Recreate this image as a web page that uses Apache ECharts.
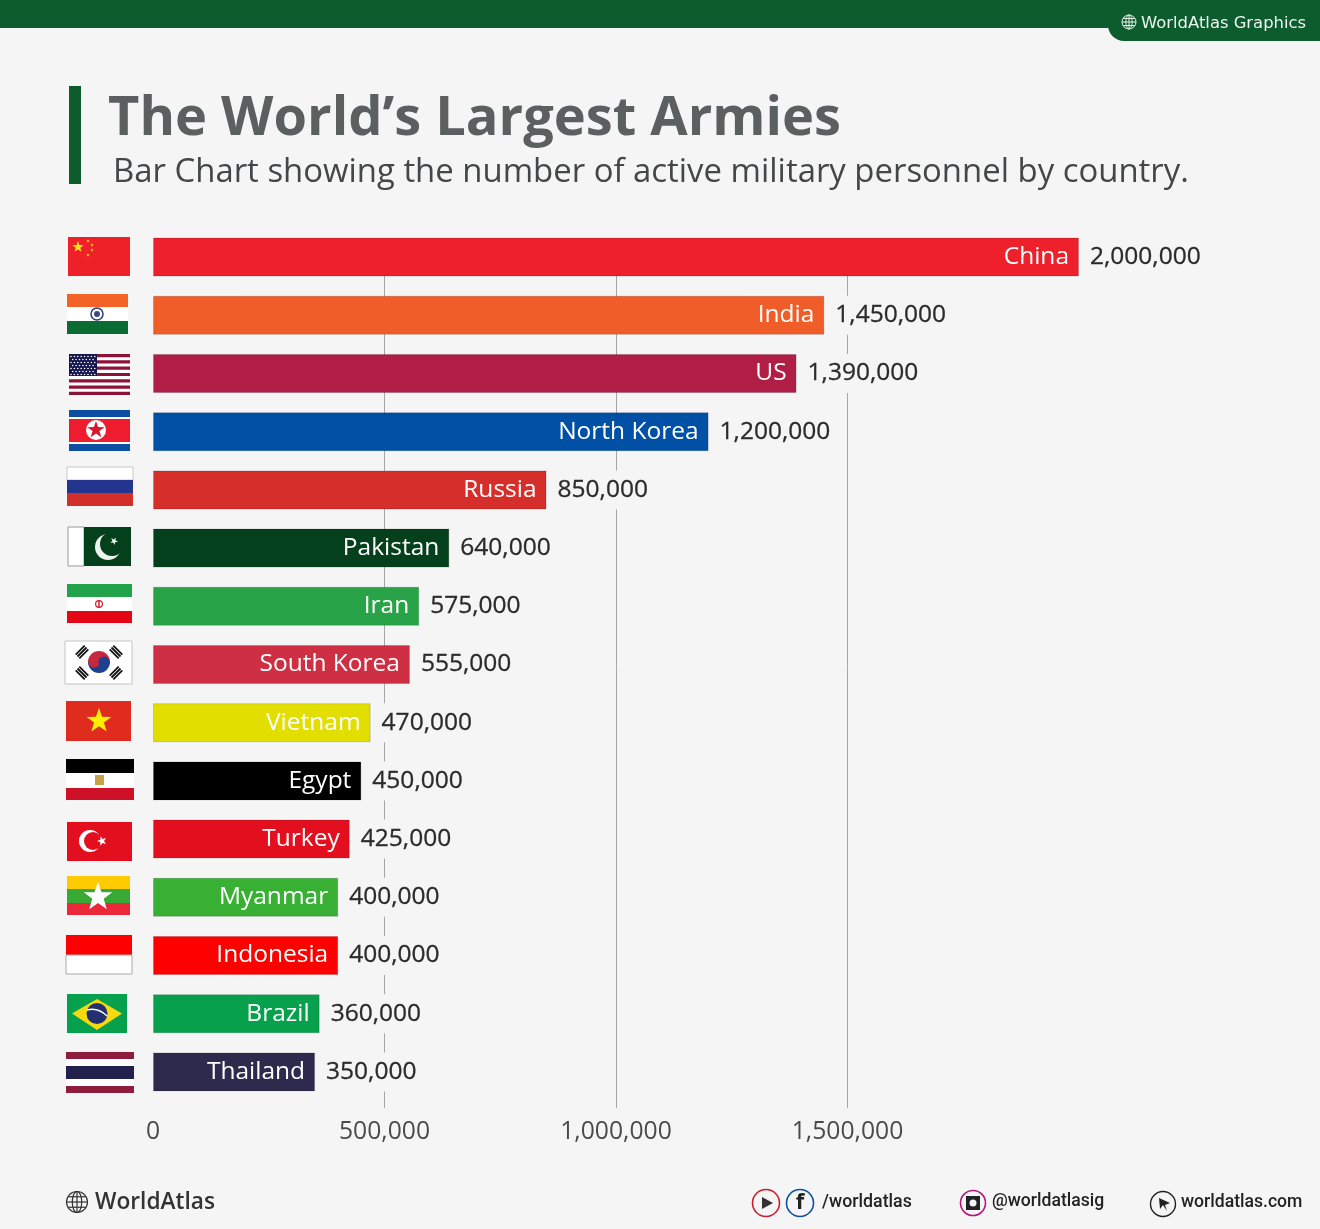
<!DOCTYPE html>
<html>
<head>
<meta charset="utf-8">
<style>html,body{margin:0;padding:0;background:#f5f5f5}#main{width:1320px;height:1229px}</style>
<script src="https://cdn.jsdelivr.net/npm/echarts@6/dist/echarts.min.js"></script>
</head>
<body>
<div id="main"></div>
<script>
var countries = ['China', 'India', 'US', 'North Korea', 'Russia', 'Pakistan', 'Iran', 'South Korea', 'Vietnam', 'Egypt', 'Turkey', 'Myanmar', 'Indonesia', 'Brazil', 'Thailand'];
var personnel = [2000000, 1450000, 1390000, 1200000, 850000, 640000, 575000, 555000, 470000, 450000, 425000, 400000, 400000, 360000, 350000];
var barColors = ['#ee202b', '#f15d29', '#b01e46', '#0051a5', '#d62e2a', '#05401c', '#28a347', '#cf2f42', '#e2de00', '#000000', '#e30f1f', '#38b034', '#fe0000', '#07a04d', '#2e2a4e'];
var tickValues = [500000, 1000000, 1500000];
var tickLabels = [0, 500000, 1000000, 1500000];

var bg = '#f5f5f5';
var green = '#0c5c2e';
var font = '"Open Sans", sans-serif';
var myChart = echarts.init(document.getElementById('main'));

function fmt(v) {
    return String(v).replace(/\B(?=(\d{3})+$)/g, ',');
}

// drawing helpers for the flags and footer icons
function rect(x, y, w, h, fill, stroke) {
    return {type: 'rect', silent: true, shape: {x: x, y: y, width: w, height: h}, style: {fill: fill, stroke: stroke || null, lineWidth: stroke ? 1 : 0}};
}
function circ(cx, cy, r, fill, stroke, lw) {
    return {type: 'circle', silent: true, shape: {cx: cx, cy: cy, r: r}, style: {fill: fill, stroke: stroke || null, lineWidth: lw || 0}};
}
function star(cx, cy, r, fill, rot) {
    var pts = [];
    for (var i = 0; i < 10; i++) {
        var a = -Math.PI / 2 + (rot || 0) + i * Math.PI / 5;
        var rr = i % 2 ? r * 0.4 : r;
        pts.push([cx + rr * Math.cos(a), cy + rr * Math.sin(a)]);
    }
    return {type: 'polygon', silent: true, shape: {points: pts}, style: {fill: fill}};
}
function line(x1, y1, x2, y2, color, lw) {
    return {type: 'line', silent: true, shape: {x1: x1, y1: y1, x2: x2, y2: y2}, style: {stroke: color, lineWidth: lw}};
}
function txt(x, y, text, size, weight, color, family, align) {
    return {type: 'text', silent: true, x: x, y: y + 2, style: {text: text, fontSize: size, fontWeight: weight, fill: color, fontFamily: family || font, align: align || 'left', verticalAlign: 'middle'}};
}
function globe(cx, cy, r, color, lw) {
    return [
        circ(cx, cy, r, null, color, lw),
        {type: 'ellipse', silent: true, shape: {cx: cx, cy: cy, rx: r * 0.45, ry: r}, style: {fill: null, stroke: color, lineWidth: lw}},
        line(cx - r, cy, cx + r, cy, color, lw),
        line(cx, cy - r, cx, cy + r, color, lw),
        line(cx - r * 0.85, cy - r * 0.5, cx + r * 0.85, cy - r * 0.5, color, lw),
        line(cx - r * 0.85, cy + r * 0.5, cx + r * 0.85, cy + r * 0.5, color, lw)
    ];
}

var gfx = [];
function add(list) { gfx = gfx.concat(list); }

// header
var cover = rect(153, 226, 926, 13, bg);
cover.z = 1; // hides the grid lines above the first bar
add([
    rect(0, 0, 1320, 28, green),
    {type: 'rect', silent: true, shape: {x: 1108, y: 10, width: 212, height: 31, r: [0, 0, 0, 16]}, style: {fill: green}},
    rect(69, 86, 12, 98, green),
    cover
]);
add(globe(1129, 22, 7, '#e6efe9', 1));
add([txt(1141, 22, 'WorldAtlas Graphics', 16.4, 400, '#eef4f0', '"DejaVu Sans", sans-serif')]);

// China
add([rect(68, 237, 62, 39, '#ee2128'), star(78, 247, 6, '#fbe122'), star(88, 241, 1.8, '#fbe122'), star(92, 245, 1.8, '#fbe122'), star(92, 250, 1.8, '#fbe122'), star(88, 255, 1.8, '#fbe122')]);
// India
add([rect(67, 294, 61, 13, '#f26327'), rect(67, 307, 61, 14, '#ffffff'), rect(67, 321, 61, 13, '#0b6b33'), circ(97, 314, 6, '#fff', '#2d3a78', 1.5), circ(97, 314, 3, '#3b4a86')]);
// US
var us = [rect(69, 354, 61, 41, '#ffffff')];
for (var s = 0; s < 7; s++) us.push(rect(69, 354 + s * 6.31, 61, 3.15, '#8d1237'));
us.push(rect(69, 354, 28, 22, '#14164f'));
for (var row = 0; row < 7; row++) {
    for (var col = 0; col < (row % 2 ? 7 : 8); col++) {
        us.push(circ(71 + col * 3.4 + (row % 2 ? 1.7 : 0), 356.5 + row * 3, 0.8, '#ffffff'));
    }
}
add(us);
// North Korea
add([rect(69, 410, 61, 41, '#ffffff'), rect(69, 410, 61, 7, '#0b4ea2'), rect(69, 419, 61, 23, '#ee1c2e'), rect(69, 444, 61, 7, '#0b4ea2'), circ(96, 430, 10, '#ffffff'), star(96, 430, 9, '#d8182b')]);
// Russia
add([rect(67, 467, 66, 13, '#ffffff', '#c9c9c9'), rect(67, 480, 66, 13, '#23358f'), rect(67, 493, 66, 13, '#d32f2a')]);
// Pakistan
add([rect(68, 527, 16, 39, '#ffffff', '#999999'), rect(84, 527, 47, 39, '#05401c'), circ(108, 547, 13, '#eef4ee'), circ(112, 544, 12, '#05401c'), star(114, 541, 4, '#eef4ee', 0.5)]);
// Iran
add([rect(67, 584, 65, 13, '#22a24a'), rect(67, 597, 65, 14, '#ffffff'), rect(67, 611, 65, 12, '#e30613'), circ(99, 604, 3.4, null, '#d0202e', 1.2), line(99, 600, 99, 608, '#d0202e', 1.5)]);
// South Korea
var kr = [
    rect(65, 641, 67, 43, '#ffffff', '#c4c4c4'),
    {type: 'sector', silent: true, shape: {cx: 99, cy: 662, r: 11, startAngle: Math.PI, endAngle: 2 * Math.PI}, style: {fill: '#c8283c'}},
    {type: 'sector', silent: true, shape: {cx: 99, cy: 662, r: 11, startAngle: 0, endAngle: Math.PI}, style: {fill: '#1f3f8f'}},
    circ(94, 662, 5.5, '#c8283c'), circ(104, 662, 5.5, '#1f3f8f')
];
[[82, 652, 1], [116, 652, -1], [82, 673, -1], [116, 673, 1]].forEach(function (t) {
    for (var i = -1; i <= 1; i++) {
        var ox = i * 2.6 * 0.7 * t[2], oy = i * 2.6 * 0.7;
        kr.push(line(t[0] + ox - 4.5, t[1] + oy + 4.5 * t[2], t[0] + ox + 4.5, t[1] + oy - 4.5 * t[2], '#111111', 1.8));
    }
});
add(kr);
// Vietnam
add([rect(66, 701, 65, 40, '#df2c1e'), star(99, 721, 13, '#ffee00')]);
// Egypt
add([rect(66, 759, 68, 14, '#000000'), rect(66, 773, 68, 15, '#ffffff'), rect(66, 788, 68, 12, '#ce1126'), rect(95, 775, 9, 10, '#c5a24a')]);
// Turkey
add([rect(67, 822, 65, 39, '#e30f1f'), circ(90, 841, 11, '#ffffff'), circ(93, 841, 9, '#e30f1f'), star(102, 841, 5, '#ffffff', -0.3)]);
// Myanmar
add([rect(67, 876, 63, 13, '#fecb00'), rect(67, 889, 63, 14, '#38a935'), rect(67, 903, 63, 12, '#ea2839'), star(98, 897, 15, '#ffffff')]);
// Indonesia
add([rect(66, 935, 66, 20, '#fe0000'), rect(66, 955, 66, 19, '#ffffff', '#aaaaaa')]);
// Brazil
add([
    rect(67, 994, 60, 39, '#07a04d'),
    {type: 'polygon', silent: true, shape: {points: [[72, 1013.5], [97, 999], [122, 1013.5], [97, 1030]]}, style: {fill: '#f6d90f'}},
    circ(97, 1013.5, 10.5, '#23306f'),
    {type: 'bezierCurve', silent: true, shape: {x1: 87, y1: 1010, x2: 107, y2: 1016, cpx1: 98, cpy1: 1007}, style: {fill: null, stroke: '#ffffff', lineWidth: 1.5}}
]);
// Thailand
add([rect(66, 1052, 68, 41, '#ffffff'), rect(66, 1052, 68, 7, '#8e1c3c'), rect(66, 1066, 68, 13, '#22204c'), rect(66, 1086, 68, 7, '#8e1c3c')]);

// footer
add(globe(77, 1202, 10.5, '#333333', 1.2));
add([
    txt(95, 1201, 'WorldAtlas', 22.7, 600, '#333333'),
    circ(766, 1203, 13.5, null, '#c8202c', 1.6),
    {type: 'polygon', silent: true, shape: {points: [[762, 1197], [762, 1209], [773, 1203]]}, style: {fill: '#333333'}},
    circ(800, 1203, 13.5, null, '#0b4ea2', 1.6),
    txt(800, 1201, 'f', 22, 700, '#222222', font, 'center'),
    txt(822, 1201, '/worldatlas', 17.8, 500, '#222222', 'Roboto, sans-serif'),
    circ(973, 1203, 12.5, null, '#b5177e', 1.6),
    rect(966, 1196, 14, 14, '#222222'),
    circ(973, 1203, 3.5, '#f5f5f5'),
    txt(992, 1200, '@worldatlasig', 17.6, 500, '#222222', 'Roboto, sans-serif'),
    circ(1163, 1204, 12.5, null, '#222222', 1.4),
    {type: 'polygon', silent: true, shape: {points: [[1159, 1198], [1170, 1203], [1165, 1205], [1167, 1211], [1163, 1205], [1160, 1209]]}, style: {fill: '#222222'}},
    txt(1181, 1201, 'worldatlas.com', 17.6, 500, '#222222', 'Roboto, sans-serif')
]);

option = {
    backgroundColor: bg,
    animation: false,
    title: [
        {text: 'The World’s Largest Armies', left: 103, top: 88, textStyle: {fontFamily: font, fontSize: 54.2, fontWeight: 700, color: '#5c5f60'}},
        {text: 'Bar Chart showing the number of active military personnel by country.', left: 108, top: 151, textStyle: {fontFamily: font, fontSize: 32.9, fontWeight: 400, color: '#444647'}}
    ],
    grid: {left: 153, top: 228, width: 926, height: 873, containLabel: false},
    xAxis: {
        type: 'value',
        min: 0,
        max: 2000000,
        interval: 500000,
        axisLine: {show: false},
        axisTick: {show: true, length: 7, customValues: tickValues, lineStyle: {color: '#a6a6a6', width: 1}},
        // the custom ticks already leave out both ends
        splitLine: {show: true, showMinLine: true, showMaxLine: true, lineStyle: {color: '#a6a6a6', width: 1}},
        axisLabel: {customValues: tickLabels, margin: 18, fontFamily: font, fontSize: 24.7, color: '#4a4a4a', formatter: fmt}
    },
    yAxis: {
        type: 'category',
        inverse: true,
        data: countries,
        axisLine: {show: false},
        axisTick: {show: false},
        axisLabel: {show: false}
    },
    series: [
        {
            name: 'Active military personnel',
            type: 'bar',
            barWidth: 39,
            data: personnel,
            itemStyle: {
                borderColor: 'rgba(0,0,0,0.15)',
                borderWidth: 1,
                color: function (p) { return barColors[p.dataIndex]; }
            },
            label: {
                show: true,
                position: 'insideRight',
                distance: 10,
                fontFamily: font,
                fontSize: 24.5,
                color: '#ffffff',
                formatter: function (p) { return countries[p.dataIndex]; }
            }
        },
        {
            // same bars again, see-through, only to carry the value labels
            name: 'Value',
            type: 'bar',
            barWidth: 39,
            barGap: '-100%',
            data: personnel,
            itemStyle: {color: 'transparent'},
            label: {
                show: true,
                position: 'right',
                distance: 9,
                fontFamily: font,
                fontSize: 24.5,
                color: '#2b2b2b',
                textBorderColor: '#2b2b2b',
                textBorderWidth: 0.3,
                backgroundColor: bg,
                padding: [7, 2],
                formatter: function (p) { return fmt(p.value); }
            }
        }
    ],
    graphic: {elements: gfx}
};

myChart.setOption(option);
</script>
</body>
</html>
